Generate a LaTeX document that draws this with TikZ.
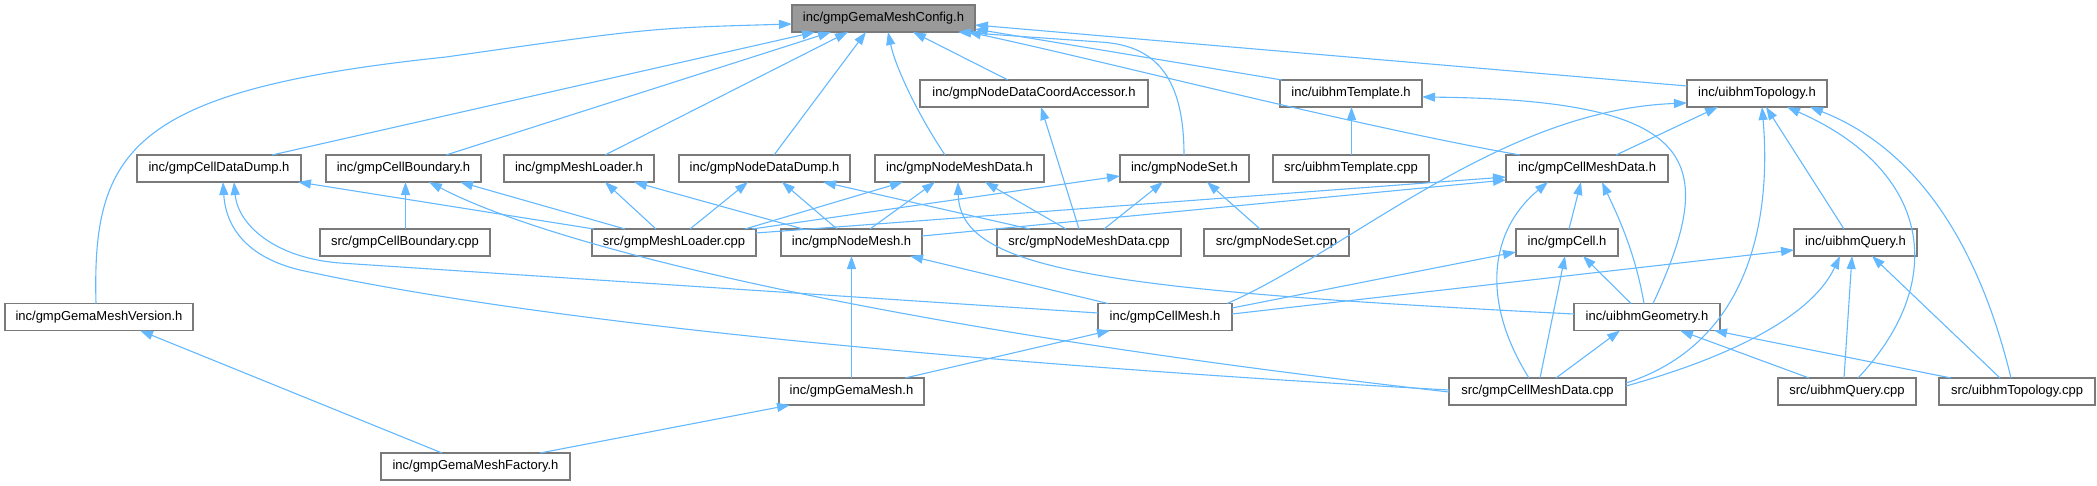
\documentclass[tikz,border=0pt]{standalone}
\usepackage{fontspec}
\setmainfont{Liberation Sans}
\usetikzlibrary{arrows.meta}
\definecolor{edgeblue}{HTML}{63B8FF}
\definecolor{boxgray}{HTML}{7A7A7A}
\definecolor{rootgray}{HTML}{9A9A9A}
\tikzset{
  box/.style={draw=boxgray, fill=white, line width=1.2pt, inner sep=0pt, outer sep=0pt,
    minimum height=27pt, font=\fontsize{13}{15}\selectfont, anchor=center},
  rootbox/.style={box, fill=rootgray},
  edge/.style={draw=edgeblue, line width=1.1pt, -{Triangle[length=13pt,width=9pt]}}
}
\begin{document}
\begin{tikzpicture}[x=1pt,y=-1pt]
\useasboundingbox (0,0) rectangle (2097,485);
% row 0
\node[rootbox, minimum width=183pt] (config) at (883.5,18.5) {inc/gmpGemaMeshConfig.h};
% row 1
\node[box, minimum width=228pt] (coord) at (1034,93.5) {inc/gmpNodeDataCoordAccessor.h};
\node[box, minimum width=142pt] (templH) at (1351,93.5) {inc/uibhmTemplate.h};
\node[box, minimum width=140pt] (topoH) at (1757,93.5) {inc/uibhmTopology.h};
% row 2
\node[box, minimum width=164pt] (cdd) at (219,168.5) {inc/gmpCellDataDump.h};
\node[box, minimum width=155pt] (cbh) at (403.5,168.5) {inc/gmpCellBoundary.h};
\node[box, minimum width=150pt] (mlh) at (579,168.5) {inc/gmpMeshLoader.h};
\node[box, minimum width=171pt] (ndd) at (764.5,168.5) {inc/gmpNodeDataDump.h};
\node[box, minimum width=169pt] (nmdh) at (959.5,168.5) {inc/gmpNodeMeshData.h};
\node[box, minimum width=129pt] (nsh) at (1184.5,168.5) {inc/gmpNodeSet.h};
\node[box, minimum width=156pt] (templcpp) at (1351,168.5) {src/uibhmTemplate.cpp};
\node[box, minimum width=162pt] (cmdh) at (1587,168.5) {inc/gmpCellMeshData.h};
% row 3
\node[box, minimum width=170pt] (cbcpp) at (405,242.5) {src/gmpCellBoundary.cpp};
\node[box, minimum width=164pt] (mlcpp) at (674,242.5) {src/gmpMeshLoader.cpp};
\node[box, minimum width=141pt] (nodemesh) at (851.5,242.5) {inc/gmpNodeMesh.h};
\node[box, minimum width=184pt] (nmdcpp) at (1089,242.5) {src/gmpNodeMeshData.cpp};
\node[box, minimum width=145pt] (nscpp) at (1276.5,242.5) {src/gmpNodeSet.cpp};
\node[box, minimum width=102pt] (cellh) at (1567,242.5) {inc/gmpCell.h};
\node[box, minimum width=123pt] (queryh) at (1855.5,242.5) {inc/uibhmQuery.h};
% row 4
\node[box, minimum width=188pt] (version) at (99,317) {inc/gmpGemaMeshVersion.h};
\node[box, minimum width=134pt] (cellmesh) at (1165,317) {inc/gmpCellMesh.h};
\node[box, minimum width=146pt] (geomh) at (1647,317) {inc/uibhmGeometry.h};
% row 5
\node[box, minimum width=145pt] (gemamesh) at (851.5,391.5) {inc/gmpGemaMesh.h};
\node[box, minimum width=177pt] (cmdcpp) at (1537.5,391.5) {src/gmpCellMeshData.cpp};
\node[box, minimum width=138pt] (querycpp) at (1847,391.5) {src/uibhmQuery.cpp};
\node[box, minimum width=156pt] (topocpp) at (2017,391.5) {src/uibhmTopology.cpp};
% row 6
\node[box, minimum width=189pt] (factory) at (475.5,466.5) {inc/gmpGemaMeshFactory.h};

% edges into config
\draw[edge] (version.north -| 96,0) .. controls (92,150) and (130,90) .. (446,57) .. controls (650,28) .. (config.west |- 0,24);
\draw[edge] (cdd.north -| 272,0) -- (config.south -| 815,0);
\draw[edge] (cbh.north -| 446,0) -- (config.south -| 831,0);
\draw[edge] (mlh.north -| 605,0) -- (config.south -| 848,0);
\draw[edge] (ndd.north -| 774,0) -- (config.south -| 866,0);
\draw[edge] (nmdh.north -| 945,0) .. controls (915,110) and (895,65) .. (config.south -| 888,0);
\draw[edge] (coord.north -| 1008,0) -- (config.south -| 913,0);
\draw[edge] (nsh.north -| 1184,0) .. controls (1184,70) and (1150,45) .. (1100,42) -- (config.south -| 958,0);
\draw[edge] (templH.north -| 1282,0) -- (config.east |- 0,29);
\draw[edge] (topoH.west |- 0,86) -- (config.east |- 0,25);
\draw[edge] (cmdh.north -| 1520,0) .. controls (1350,125) and (1100,60) .. (config.south -| 968,0);
% other edges
\draw[edge] (factory.north -| 442,0) -- (version.south -| 140,0);
\draw[edge] (mlcpp.north -| 594,0) -- (cdd.south -| 298,0);
\draw[edge] (cellmesh.west |- 0,313) -- (340,263) .. controls (275,258) and (238,225) .. (cdd.south -| 234,0);
\draw[edge] (cmdcpp.west |- 0,390) .. controls (1000,365) and (550,325) .. (300,270) .. controls (250,258) and (226,230) .. (cdd.south -| 223,0);
\draw[edge] (cbcpp.north -| 405.5,0) -- (cbh.south -| 405.5,0);
\draw[edge] (mlcpp.north -| 625,0) -- (cbh.south -| 460,0);
\draw[edge] (cmdcpp.west |- 0,392) .. controls (900,330) and (560,250) .. (cbh.south -| 429,0);
\draw[edge] (mlcpp.north -| 656,0) -- (mlh.south -| 605,0);
\draw[edge] (nodemesh.north -| 803,0) -- (mlh.south -| 634,0);
\draw[edge] (mlcpp.north -| 690,0) -- (ndd.south -| 748,0);
\draw[edge] (nodemesh.north -| 837,0) -- (ndd.south -| 782,0);
\draw[edge] (nmdcpp.north -| 1030,0) -- (ndd.south -| 823,0);
\draw[edge] (mlcpp.north -| 745,0) -- (nmdh.south -| 903,0);
\draw[edge] (nodemesh.north -| 870,0) -- (nmdh.south -| 935,0);
\draw[edge] (nmdcpp.north -| 1066,0) -- (nmdh.south -| 985,0);
\draw[edge] (geomh.west |- 0,314) .. controls (1100,290) and (960,270) .. (nmdh.south -| 958,0);
\draw[edge] (nmdcpp.north -| 1079,0) -- (coord.south -| 1041,0);
\draw[edge] (mlcpp.north -| 752,0) -- (nsh.west |- 0,176);
\draw[edge] (nmdcpp.north -| 1104,0) -- (nsh.south -| 1163,0);
\draw[edge] (nscpp.north -| 1260,0) -- (nsh.south -| 1207,0);
\draw[edge] (templcpp.north -| 1351.5,0) -- (templH.south -| 1351.5,0);
\draw[edge] (geomh.north -| 1653,0) .. controls (1720,160) and (1700,100) .. (templH.east |- 0,97);
\draw[edge] (cmdh.north -| 1616,0) -- (topoH.south -| 1718,0);
\draw[edge] (cellmesh.north -| 1227,0) .. controls (1350,250) and (1500,110) .. (topoH.west |- 0,103);
\draw[edge] (queryh.north -| 1844,0) -- (topoH.south -| 1766,0);
\draw[edge] (cmdcpp.east |- 0,383) .. controls (1760,340) and (1770,200) .. (topoH.south -| 1762,0);
\draw[edge] (querycpp.north -| 1858,0) .. controls (1950,280) and (1930,170) .. (topoH.south -| 1787,0);
\draw[edge] (topocpp.north -| 2011,0) .. controls (1980,250) and (1920,150) .. (topoH.south -| 1810,0);
\draw[edge] (mlcpp.east |- 0,233) -- (cmdh.west |- 0,177);
\draw[edge] (nodemesh.east |- 0,236) -- (cmdh.west |- 0,180);
\draw[edge] (cellh.north -| 1569,0) -- (cmdh.south -| 1581,0);
\draw[edge] (cmdcpp.north -| 1529,0) .. controls (1480,300) and (1490,230) .. (cmdh.south -| 1548,0);
\draw[edge] (geomh.north -| 1644,0) .. controls (1635,250) and (1615,210) .. (cmdh.south -| 1602,0);
\draw[edge] (cellmesh.north -| 1108,0) -- (nodemesh.south -| 910,0);
\draw[edge] (gemamesh.north) -- (nodemesh.south);
\draw[edge] (cellmesh.east |- 0,308) -- (cellh.west |- 0,252);
\draw[edge] (cmdcpp.north -| 1540,0) -- (cellh.south -| 1565,0);
\draw[edge] (geomh.north -| 1631,0) -- (cellh.south -| 1583,0);
\draw[edge] (cellmesh.east |- 0,314) -- (queryh.west |- 0,250);
\draw[edge] (cmdcpp.east |- 0,386) .. controls (1720,360) and (1810,320) .. (queryh.south -| 1840,0);
\draw[edge] (querycpp.north -| 1844,0) -- (queryh.south -| 1852,0);
\draw[edge] (topocpp.north -| 2000,0) -- (queryh.south -| 1872,0);
\draw[edge] (gemamesh.north -| 905,0) -- (cellmesh.south -| 1110,0);
\draw[edge] (cmdcpp.north -| 1556,0) -- (geomh.south -| 1620,0);
\draw[edge] (querycpp.north -| 1809,0) -- (geomh.south -| 1680,0);
\draw[edge] (topocpp.north -| 1951,0) -- (geomh.south -| 1714,0);
\draw[edge] (factory.north -| 540,0) -- (gemamesh.south -| 790,0);
\end{tikzpicture}
\end{document}
